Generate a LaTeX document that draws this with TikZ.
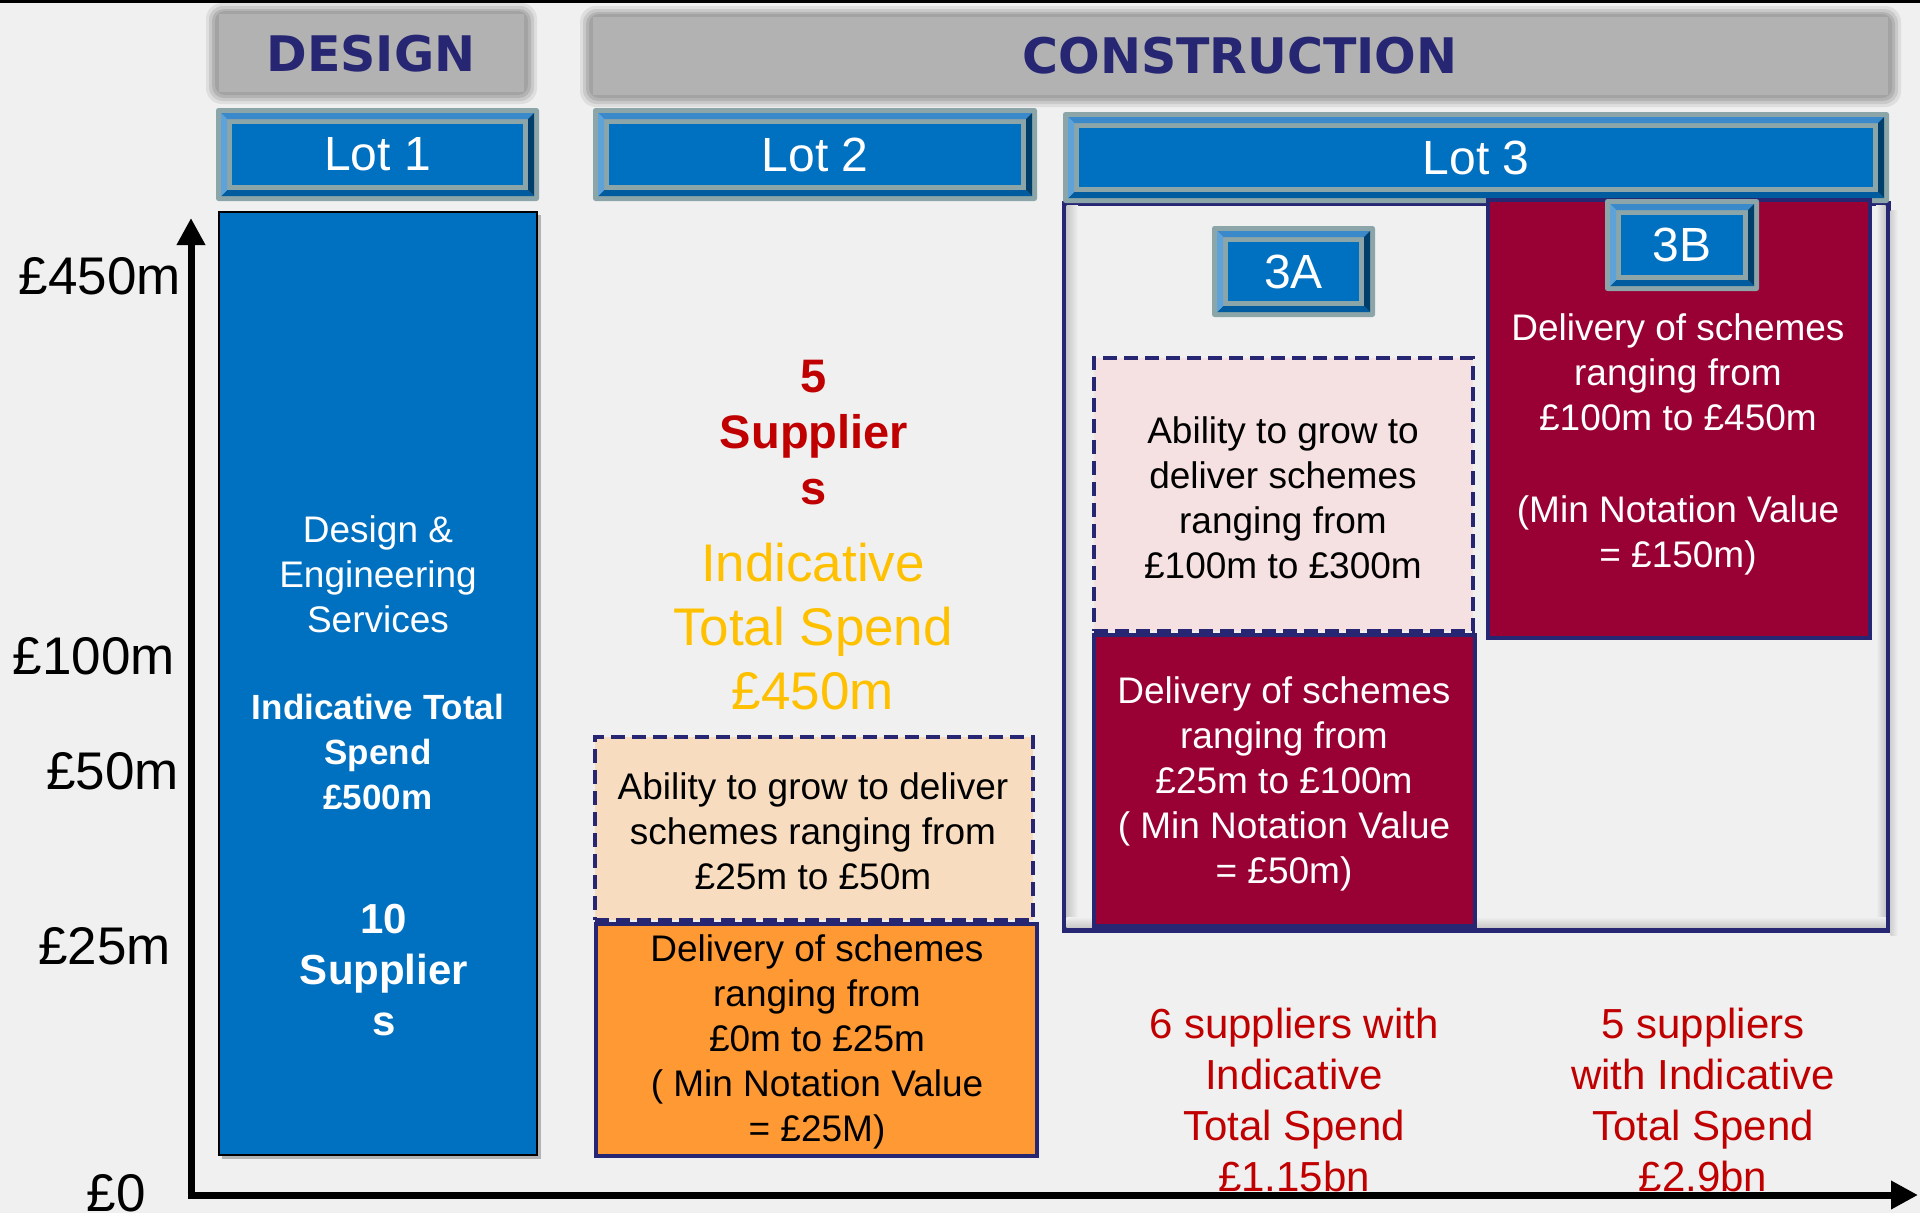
\documentclass[tikz,border=0pt]{standalone}
\usepackage{fontspec}
\setmainfont{Liberation Sans}
\newfontfamily\hdrfont{DejaVu Sans}
\usetikzlibrary{arrows.meta}
\definecolor{bgc}{HTML}{F0F0F0}
\definecolor{navy}{HTML}{262673}
\definecolor{hdrgray}{HTML}{B2B2B2}
\definecolor{hdrshadow}{HTML}{999999}
\definecolor{bevframe}{HTML}{8BA5A8}
\definecolor{bevtop}{HTML}{3A8ACB}
\definecolor{bevleft}{HTML}{5DA3DA}
\definecolor{bevright}{HTML}{003E6B}
\definecolor{bevbottom}{HTML}{005C9E}
\definecolor{facec}{HTML}{0070C0}
\definecolor{crimsonc}{HTML}{990033}
\definecolor{peachc}{HTML}{F8DCC0}
\definecolor{pinkc}{HTML}{F5E1E1}
\definecolor{orangec}{HTML}{FF9933}
\definecolor{redtxt}{HTML}{C00000}
\definecolor{goldtxt}{HTML}{FFC000}
\tikzset{
  lottext/.style={text=white, font=\fontsize{48}{56}\selectfont, inner sep=0pt},
  hdrtext/.style={text=navy, font=\hdrfont\bfseries\fontsize{49}{56}\selectfont, inner sep=0pt},
  ylab/.style={font=\fontsize{53}{60}\selectfont, anchor=east, inner sep=0pt},
  body/.style={align=center, inner sep=0pt, font=\fontsize{37}{45}\selectfont},
  whitebody/.style={body, text=white},
  solidbox/.style={draw=navy, line width=4pt, inner sep=0pt},
  dashbox/.style={draw=navy, line width=4pt, dash pattern=on 14pt off 7pt, inner sep=0pt},
  redbody/.style={align=center, inner sep=0pt, text=redtxt, font=\fontsize{42}{51}\selectfont},
  axis/.style={line width=7pt, -{Triangle[length=27pt,width=27pt]}},
}
\newcommand\bevelbox[6]{%
  \fill[bevframe,rounded corners=2.5pt] (#2,#3) rectangle (#4,#5);
  \fill[bevtop] (#2+5,#3+5) -- (#4-5,#3+5) -- (#4-11,#3+11) -- (#2+11,#3+11) -- cycle;
  \fill[bevbottom] (#2+5,#5-5) -- (#4-5,#5-5) -- (#4-11,#5-11) -- (#2+11,#5-11) -- cycle;
  \fill[bevleft] (#2+5,#3+5) -- (#2+11,#3+11) -- (#2+11,#5-11) -- (#2+5,#5-5) -- cycle;
  \fill[bevright] (#4-5,#3+5) -- (#4-11,#3+11) -- (#4-11,#5-11) -- (#4-5,#5-5) -- cycle;
  \fill[facec] (#2+16,#3+16) rectangle (#4-16,#5-16);
  \node[lottext] (#1) at ({(#2+#4)/2},{(#3+#5)/2}) {#6};
}
\newcommand\hdrbox[4]{%
  \fill[hdrshadow, opacity=0.2, rounded corners=16pt] (#1-13,#2-11) rectangle (#3+13,#4+12);
  \fill[hdrshadow, opacity=0.3, rounded corners=14pt] (#1-10,#2-8) rectangle (#3+10,#4+9);
  \fill[hdrshadow, opacity=0.45, rounded corners=12pt] (#1-7,#2-5) rectangle (#3+7,#4+6);
  \fill[hdrshadow, opacity=0.6, rounded corners=10pt] (#1-4,#2-3) rectangle (#3+4,#4+3);
  \fill[hdrgray] (#1,#2) rectangle (#3,#4);
}
\begin{document}
\begin{tikzpicture}[x=1pt,y=-1pt]
\fill[bgc] (0,0) rectangle (1920,1213);
\useasboundingbox (0,0) rectangle (1920,1213);
\fill[black] (0,0) rectangle (1920,2.5);

% headers
\hdrbox{219}{14}{524}{92}
\node[hdrtext] (design) at (371,54) {DESIGN};
\hdrbox{593}{17}{1888}{95}
\node[hdrtext] (construction) at (1240,56) {CONSTRUCTION};

% lot 3 container
\node[draw=navy, line width=5pt, fill=bgc, minimum width=824pt, minimum height=727pt, inner sep=0pt] (lot3box) at (1476,566.5) {};
\shade[left color=black!22, right color=bgc] (1066.5,205) rectangle (1078,927.5);
\shade[left color=bgc, right color=black!22] (1876,205) rectangle (1885.5,927.5);
\shade[top color=bgc, bottom color=black!22] (1066.5,917) rectangle (1885.5,927.5);
\shade[left color=black!18, right color=bgc] (1890.5,210) rectangle (1898,935);

% lot bevels
\bevelbox{lot1}{216}{108}{539}{201}{Lot 1}
\bevelbox{lot2}{593}{108}{1037}{201}{Lot 2}
\bevelbox{lot3}{1063}{112}{1889}{203}{Lot 3}

% lot 1 column
\fill[black, opacity=0.25] (222,215) rectangle (541,1159);
\node[draw=black, line width=2pt, fill=facec, minimum width=318pt, minimum height=943pt, inner sep=0pt] (lot1box) at (378,683.5) {};
\node[whitebody] (des) at (378,574) {Design \&\\Engineering\\Services};
\node[whitebody, font=\bfseries\fontsize{35}{45}\selectfont] (spend1) at (378,752) {Indicative Total\\Spend\\£500m};
\node[whitebody, font=\bfseries\fontsize{42}{51}\selectfont] (sup1) at (384,970) {10\\Supplier\\s};

% lot 2 column
\node[align=center, inner sep=0pt, text=redtxt, font=\bfseries\fontsize{47}{56}\selectfont] (sup2) at (814,433) {5\\Supplier\\s};
\node[align=center, inner sep=0pt, text=goldtxt, font=\fontsize{53}{64}\selectfont] (spend2) at (813,627) {Indicative\\Total Spend\\£450m};
\node[dashbox, fill=peachc, minimum width=438pt, minimum height=183pt] (grow2) at (814,828.5) {};
\node[body] (grow2t) at (813,831) {Ability to grow to deliver\\schemes ranging from\\£25m to £50m};
\node[solidbox, fill=orangec, minimum width=441pt, minimum height=232pt] (del2) at (816.5,1040) {};
\node[body] (del2t) at (817,1042) {Delivery of schemes\\ranging from\\£0m to £25m\\( Min Notation Value\\= £25M)};

% lot 3 contents
\node[solidbox, fill=crimsonc, minimum width=382pt, minimum height=438pt] (del3b) at (1679,419) {};
\node[whitebody] (del3bt) at (1678,444.5) {Delivery of schemes\\ranging from\\£100m to £450m\\[47pt](Min Notation Value\\= £150m)};
\node[dashbox, fill=pinkc, minimum width=379pt, minimum height=273pt] (grow3a) at (1283.5,494.5) {};
\node[body] (grow3at) at (1283,497.5) {Ability to grow to\\deliver schemes\\ranging from\\£100m to £300m};
\node[solidbox, fill=crimsonc, minimum width=381pt, minimum height=291pt] (del3a) at (1284.5,780.5) {};
\node[whitebody] (del3at) at (1284,784) {Delivery of schemes\\ranging from\\£25m to £100m\\( Min Notation Value\\= £50m)};
\bevelbox{lot3a}{1212}{226}{1375}{317}{3A}
\bevelbox{lot3b}{1605}{199}{1759}{291}{3B}

% bottom texts
\node[redbody] (sum3a) at (1294,1100) {6 suppliers with\\Indicative\\Total Spend\\£1.15bn};
\node[redbody] (sum3b) at (1703,1100) {5 suppliers\\with Indicative\\Total Spend\\£2.9bn};

% axes
\coordinate (origin) at (191,1195);
\coordinate (ytop) at (191,218);
\coordinate (xend) at (1918,1195);
\draw[axis] (origin) -- (ytop);
\draw[axis] ([xshift=-3.5pt]origin) -- (xend);

% y labels
\node[ylab] (y450) at (181,276) {£450m};
\node[ylab] (y100) at (175,656) {£100m};
\node[ylab] (y50) at (179,771) {£50m};
\node[ylab] (y25) at (171,946) {£25m};
\node[ylab] (y0) at (146,1193) {£0};
\end{tikzpicture}
\end{document}
